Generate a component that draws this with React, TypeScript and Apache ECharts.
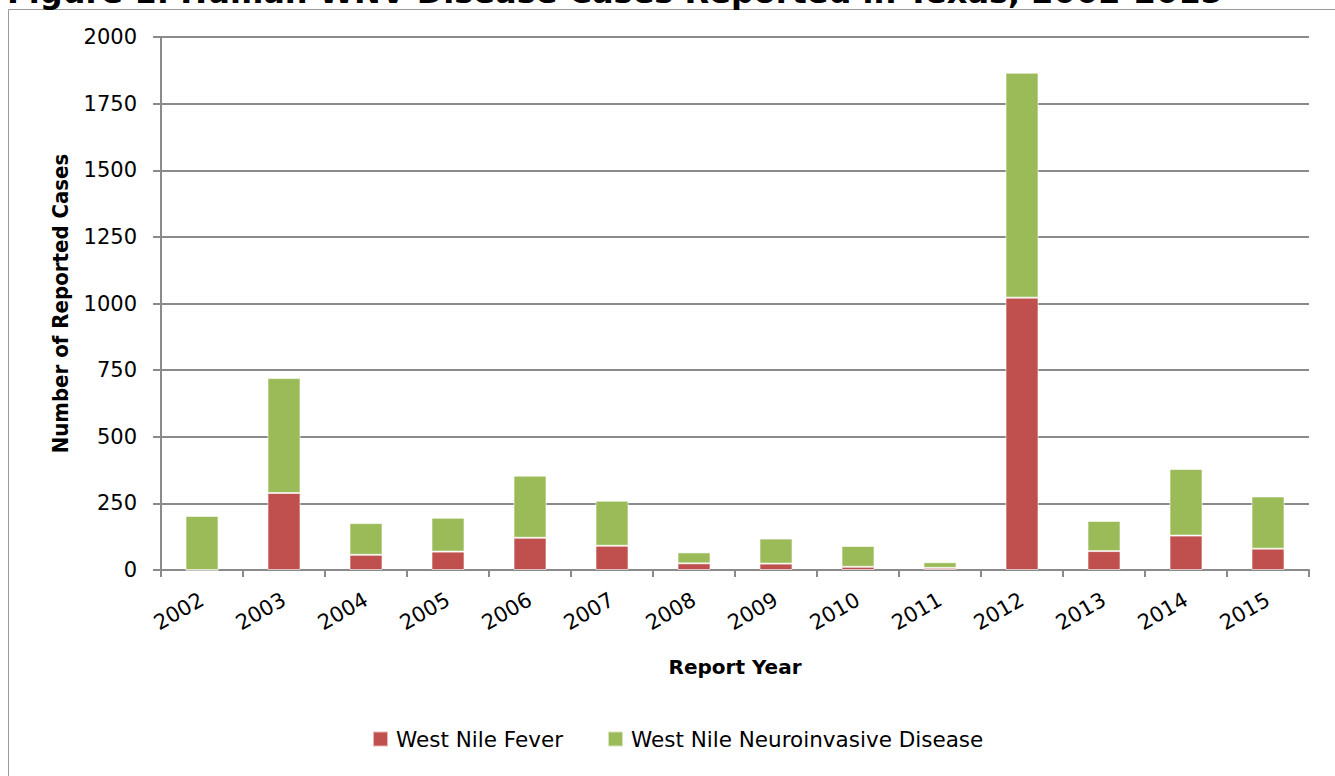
import React, { useEffect, useRef } from "react";
import * as echarts from "echarts";

const years = ["2002", "2003", "2004", "2005", "2006", "2007", "2008", "2009", "2010", "2011", "2012", "2013", "2014", "2015"];
const feverCases = [0, 289, 57, 69, 121, 91, 25, 24, 12, 8, 1022, 71, 129, 80];
const neuroCases = [203, 431, 119, 127, 233, 169, 41, 94, 78, 21, 844, 113, 250, 196];
const yTicks = { min: 0, max: 2000, interval: 250 };

const FONT = "'DejaVu Sans', 'Noto Sans', sans-serif";
const GRID_GRAY = "#8a8a8a";

export default function App() {
  const ref = useRef<HTMLDivElement>(null);
  useEffect(() => {
    if (!ref.current) return;
    const chart = echarts.init(ref.current, null, { renderer: "svg" });
    chart.setOption({
      animation: false,
      backgroundColor: "#ffffff",
      textStyle: { fontFamily: FONT },
      graphic: [
        {
          type: "rect",
          shape: { x: 8.5, y: 9.5, width: 1400, height: 900 },
          style: { fill: "none", stroke: "#9a9a9a", lineWidth: 1 },
          silent: true,
        },
        {
          type: "text",
          x: 7,
          y: 8,
          style: {
            text: "Figure 1: Human WNV Disease Cases Reported in Texas, 2002-2015",
            font: "bold 32px " + FONT,
            fill: "#000",
            align: "left",
            verticalAlign: "bottom",
          },
        },
      ],
      grid: { left: 161, right: 26, top: 37, bottom: 206, containLabel: false },
      legend: {
        left: 372,
        top: 728,
        padding: 0,
        itemWidth: 15,
        itemHeight: 15,
        itemGap: 44,
        icon: "rect",
        textStyle: { fontFamily: FONT, fontSize: 21.5, color: "#000", padding: [0, 0, 0, 3] },
        data: ["West Nile Fever", "West Nile Neuroinvasive Disease"],
      },
      xAxis: {
        type: "category",
        data: years,
        name: "Report Year",
        nameLocation: "middle",
        nameGap: 87,
        nameTextStyle: { fontFamily: FONT, fontSize: 20, fontWeight: "bold", color: "#000" },
        axisLine: { lineStyle: { color: GRID_GRAY, width: 2 } },
        axisTick: { show: true, length: 7, lineStyle: { color: GRID_GRAY, width: 2 } },
        axisLabel: { rotate: 30, fontSize: 21, color: "#000", margin: 28, fontFamily: FONT },
      },
      yAxis: {
        type: "value",
        min: yTicks.min,
        max: yTicks.max,
        interval: yTicks.interval,
        name: "Number of Reported Cases",
        nameLocation: "middle",
        nameGap: 90,
        nameTextStyle: {
          fontFamily: "'DejaVu Sans Condensed', 'Liberation Sans Narrow', sans-serif",
          fontSize: 22,
          fontWeight: "bold",
          color: "#000",
        },
        axisLine: { show: true, lineStyle: { color: GRID_GRAY, width: 2 } },
        axisTick: { show: true, length: 8, lineStyle: { color: GRID_GRAY, width: 2 } },
        axisLabel: {
          fontSize: 21,
          color: "#000",
          margin: 24,
          fontFamily: FONT,
          formatter: (v: number) => String(v),
        },
        splitLine: { lineStyle: { color: GRID_GRAY, width: 2 } },
      },
      series: [
        {
          name: "West Nile Fever",
          type: "bar",
          stack: "cases",
          data: feverCases,
          barWidth: 33,
          itemStyle: { color: "#C0504D", borderColor: "rgba(255,255,255,0.6)", borderWidth: 1 },
        },
        {
          name: "West Nile Neuroinvasive Disease",
          type: "bar",
          stack: "cases",
          data: neuroCases,
          barWidth: 33,
          itemStyle: { color: "#9BBB59", borderColor: "rgba(255,255,255,0.6)", borderWidth: 1 },
        },
      ],
    });
    return () => chart.dispose();
  }, []);
  return (
    <div
      ref={ref}
      style={{ position: "fixed", left: 0, top: 0, width: 1335, height: 776, background: "#fff" }}
    />
  );
}
